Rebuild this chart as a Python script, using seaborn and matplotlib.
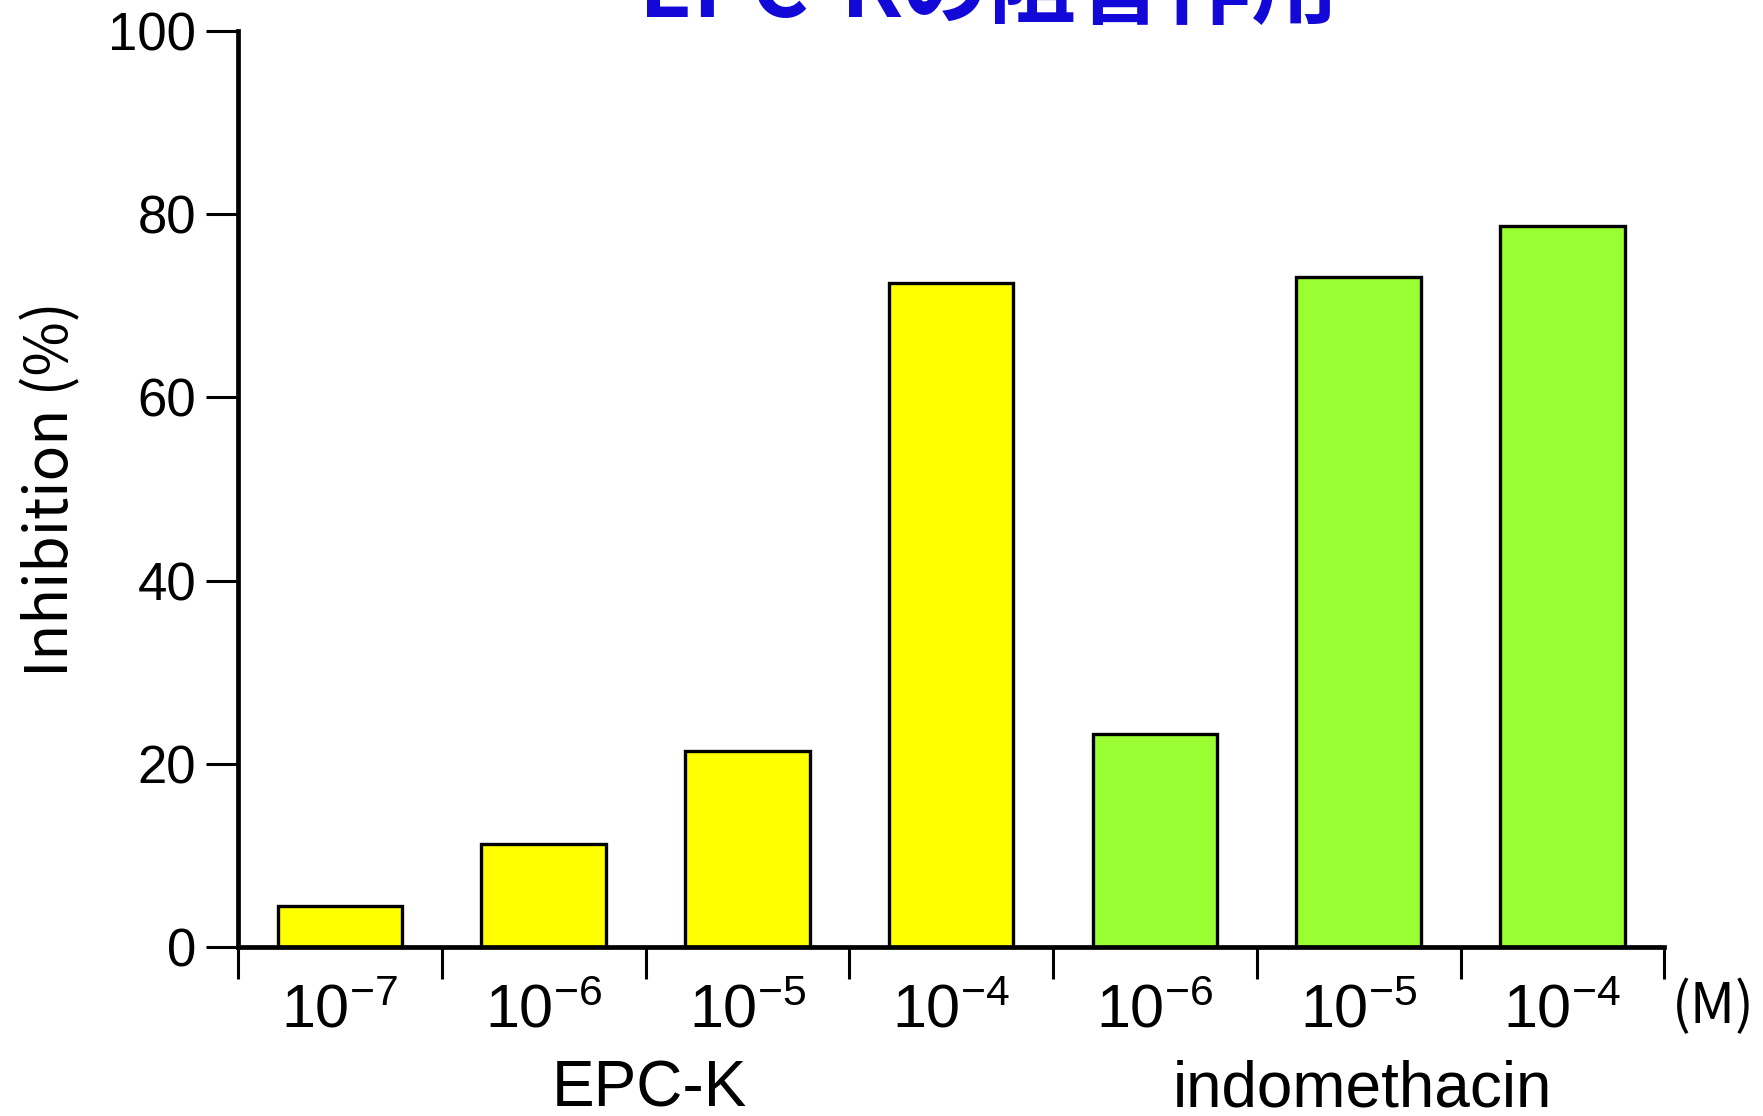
import matplotlib
matplotlib.use("Agg")
import matplotlib.pyplot as plt
import seaborn as sns
import pandas as pd
import numpy as np

# ---- data ----
conditions = ["EPC-K 1e-7", "EPC-K 1e-6", "EPC-K 1e-5", "EPC-K 1e-4",
              "indo 1e-6", "indo 1e-5", "indo 1e-4"]
groups = ["EPC-K", "EPC-K", "EPC-K", "EPC-K",
          "indomethacin", "indomethacin", "indomethacin"]
inhibition = [4.5, 11.3, 21.4, 72.5, 23.3, 73.2, 78.7]
tick_labels = [r"10$^{-7}$", r"10$^{-6}$", r"10$^{-5}$", r"10$^{-4}$",
               r"10$^{-6}$", r"10$^{-5}$", r"10$^{-4}$"]
group_names = ["EPC-K", "indomethacin"]
y_ticks = [0, 20, 40, 60, 80, 100]
title = "EPC-Kの阻害作用"
ylabel = "Inhibition (%)"
unit_label = "(M)"

df = pd.DataFrame({"condition": conditions, "group": groups, "inhibition": inhibition})

sns.set_theme(style="white")
plt.rcParams['font.family'] = ['Liberation Sans', 'DejaVu Sans']
plt.rcParams['mathtext.fontset'] = 'custom'
plt.rcParams['mathtext.rm'] = 'Liberation Sans'
plt.rcParams['mathtext.it'] = 'Liberation Sans'
plt.rcParams['mathtext.bf'] = 'Liberation Sans'
plt.rcParams['text.color'] = 'black'
plt.rcParams['axes.labelcolor'] = 'black'
plt.rcParams['xtick.color'] = 'black'
plt.rcParams['ytick.color'] = 'black'

fig = plt.figure(figsize=(17.63, 11.16), dpi=100)
ax = fig.add_axes([0.135, 0.1514, 0.944 - 0.135, 0.9722 - 0.1514])

palette = {"EPC-K": "#FFFF00", "indomethacin": "#99FF33"}
sns.barplot(data=df, x="condition", y="inhibition", hue="group", palette=palette,
            dodge=False, width=0.61, edgecolor="black", linewidth=2.4,
            saturation=1, legend=False, ax=ax, zorder=2)

n = len(conditions)
ax.set_xlim(-0.5, n - 0.5)
ax.set_ylim(0, 100)

for s in ["top", "right"]:
    ax.spines[s].set_visible(False)
for s in ["left", "bottom"]:
    ax.spines[s].set_linewidth(3.4)
    ax.spines[s].set_color("black")

# y ticks
ax.set_yticks(y_ticks)
ax.set_yticklabels([str(v) for v in y_ticks], fontsize=38)
ax.tick_params(axis="y", direction="out", length=23, width=2.2, pad=7, color="black",
               labelcolor="black", left=True)

# x: major ticks at boundaries, labels at minor (centers)
ax.set_xticks(np.arange(-0.5, n, 1.0))
ax.set_xticklabels([])
ax.set_xticks(np.arange(n), minor=True)
ax.set_xticklabels(tick_labels, minor=True, fontsize=44)
ax.tick_params(axis="x", which="major", direction="out", length=23, width=2.2, color="black", bottom=True)
ax.tick_params(axis="x", which="minor", length=0, pad=26, labelcolor="black")
ax.set_xlabel("")

ax.set_ylabel(ylabel, fontsize=42.5, family=['Noto Sans CJK JP', 'DejaVu Sans'],
              labelpad=19, color="black")

# group labels
trans = matplotlib.transforms.blended_transform_factory(ax.transData, ax.transAxes)
ax.text(1.52, -0.155, group_names[0], transform=trans, ha="center", va="center",
        fontsize=46, color="black")
ax.text(5.02, -0.155, group_names[1], transform=trans, ha="center", va="center",
        fontsize=46, color="black")

# unit label
ax.text(6.74, -0.066, unit_label, transform=trans, ha="center", va="center", fontsize=40,
        family=['Noto Sans CJK JP', 'DejaVu Sans'], color="black", clip_on=False)

# title (clipped at top)
fig.text(0.561, 0.985, title, ha="center", va="baseline", fontsize=63, fontweight="bold",
         color="#1208D8", family=['Noto Sans CJK JP', 'DejaVu Sans'])

fig.savefig("out.png", dpi=100)
